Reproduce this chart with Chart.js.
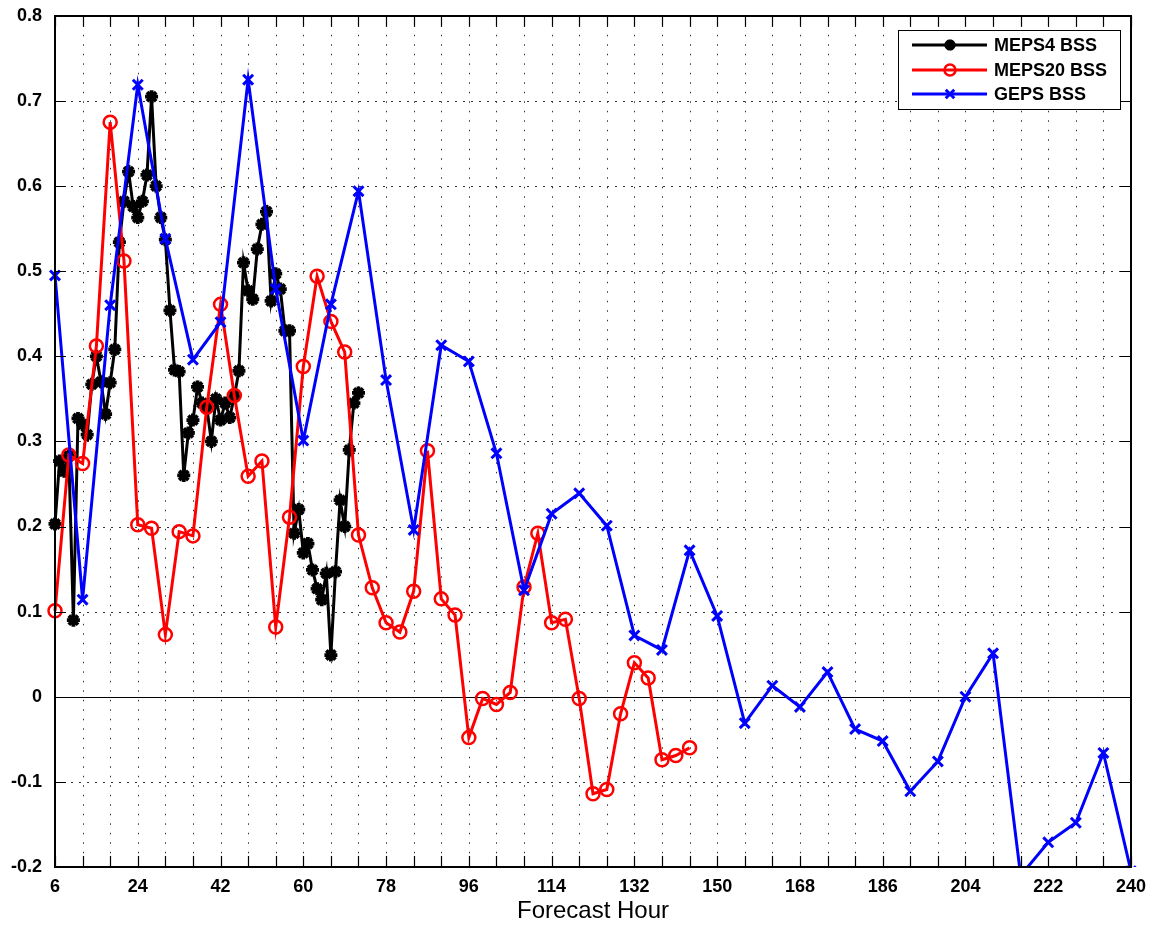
<!DOCTYPE html>
<html><head><meta charset="utf-8">
<script src="https://cdn.jsdelivr.net/npm/chart.js@4.4.1/dist/chart.umd.min.js"></script>
<style>html,body{margin:0;padding:0;background:#fff;overflow:hidden;} canvas{display:block;}</style>
</head><body>
<canvas id="c" width="1153" height="926"></canvas>
<script>
// ---------- DATA ----------
const meps4Hours = [6,7,8,9,10,11,12,13,14,15,16,17,18,19,20,21,22,23,24,25,26,27,28,29,30,31,32,33,34,35,36,37,38,39,40,41,42,43,44,45,46,47,48,49,50,51,52,53,54,55,56,57,58,59,60,61,62,63,64,65,66,67,68,69,70,71,72];
const meps4BSS = [0.203,0.277,0.265,0.283,0.09,0.327,0.32,0.308,0.367,0.40,0.37,0.332,0.369,0.408,0.534,0.582,0.617,0.576,0.563,0.582,0.613,0.705,0.60,0.563,0.537,0.454,0.384,0.382,0.26,0.31,0.325,0.364,0.345,0.34,0.30,0.35,0.325,0.345,0.328,0.353,0.383,0.51,0.477,0.467,0.526,0.555,0.57,0.465,0.497,0.479,0.43,0.43,0.192,0.22,0.169,0.18,0.149,0.127,0.114,0.145,0.049,0.147,0.231,0.2,0.29,0.345,0.357];

const meps20Hours = [6,9,12,15,18,21,24,27,30,33,36,39,42,45,48,51,54,57,60,63,66,69,72,75,78,81,84,87,90,93,96,99,102,105,108,111,114,117,120,123,126,129,132,135,138,141,144];
const meps20BSS = [0.101,0.284,0.274,0.412,0.675,0.512,0.202,0.198,0.073,0.194,0.189,0.340,0.461,0.354,0.259,0.277,0.082,0.211,0.388,0.494,0.441,0.405,0.19,0.128,0.087,0.076,0.124,0.289,0.115,0.096,-0.048,-0.002,-0.009,0.005,0.129,0.192,0.087,0.091,-0.002,-0.114,-0.109,-0.02,0.04,0.022,-0.074,-0.069,-0.06];

const gepsHours = [6,12,18,24,30,36,42,48,54,60,66,72,78,84,90,96,102,108,114,120,126,132,138,144,150,156,162,168,174,180,186,192,198,204,210,216,222,228,234,240];
const gepsBSS = [0.495,0.114,0.46,0.719,0.538,0.396,0.44,0.725,0.479,0.301,0.461,0.594,0.372,0.196,0.413,0.394,0.286,0.125,0.215,0.239,0.201,0.072,0.055,0.172,0.095,-0.031,0.013,-0.012,0.029,-0.038,-0.052,-0.111,-0.076,0.0,0.051,-0.21,-0.171,-0.148,-0.066,-0.205];

const seriesLabels = ['MEPS4 BSS','MEPS20 BSS','GEPS BSS'];
const xTickLabels = [6,24,42,60,78,96,114,132,150,168,186,204,222,240];
const yTickLabels = [-0.2,-0.1,0,0.1,0.2,0.3,0.4,0.5,0.6,0.7,0.8];
const xAxisTitle = 'Forecast Hour';

// ---------- CHART ----------
const FONT = "'Liberation Sans', Arial, Helvetica, sans-serif";
const pts = (xs, ys) => xs.map((x, i) => ({x, y: ys[i]}));

const framePlugin = {
  id: 'framePlugin',
  beforeDatasetsDraw(chart) {
    const {ctx, chartArea: a, scales: {x, y}} = chart;
    ctx.save();
    ctx.lineWidth = 1;
    ctx.strokeStyle = '#333';
    ctx.setLineDash([1.5, 8]);
    x.ticks.forEach(t => {
      const px = Math.round(x.getPixelForValue(t.value)) + 0.5;
      ctx.beginPath(); ctx.moveTo(px, a.top); ctx.lineTo(px, a.bottom); ctx.stroke();
    });
    ctx.setLineDash([2, 6]);
    y.ticks.forEach(t => {
      const py = Math.round(y.getPixelForValue(t.value)) + 0.5;
      ctx.beginPath(); ctx.moveTo(a.left, py); ctx.lineTo(a.right, py); ctx.stroke();
    });
    ctx.setLineDash([]);
    ctx.strokeStyle = '#000';
    const pz = Math.round(y.getPixelForValue(0)) + 0.5;
    ctx.beginPath(); ctx.moveTo(a.left, pz); ctx.lineTo(a.right, pz); ctx.stroke();
    ctx.restore();
  },
  afterDatasetsDraw(chart) {
    const {ctx, chartArea: a, scales: {x, y}} = chart;
    ctx.save();
    ctx.strokeStyle = '#000';
    ctx.lineWidth = 1.2;
    const TL = 11;
    x.ticks.forEach(t => {
      const px = Math.round(x.getPixelForValue(t.value)) + 0.5;
      ctx.beginPath();
      ctx.moveTo(px, a.bottom); ctx.lineTo(px, a.bottom - TL);
      ctx.moveTo(px, a.top); ctx.lineTo(px, a.top + TL);
      ctx.stroke();
    });
    y.ticks.forEach(t => {
      const py = Math.round(y.getPixelForValue(t.value)) + 0.5;
      ctx.beginPath();
      ctx.moveTo(a.left, py); ctx.lineTo(a.left + TL, py);
      ctx.moveTo(a.right, py); ctx.lineTo(a.right - TL, py);
      ctx.stroke();
    });
    ctx.lineWidth = 2;
    ctx.strokeRect(Math.round(a.left), Math.round(a.top), Math.round(a.right - a.left), Math.round(a.bottom - a.top));
    ctx.restore();
  },
  afterDraw(chart) {
    const ctx = chart.ctx;
    const bx = 898, by = 30, bw = 222, bh = 79;
    ctx.save();
    ctx.fillStyle = '#fff';
    ctx.fillRect(bx, by, bw, bh);
    ctx.strokeStyle = '#000';
    ctx.lineWidth = 1;
    ctx.strokeRect(bx + 0.5, by + 0.5, bw, bh);
    const rows = [45, 70, 94];
    chart.data.datasets.forEach((ds, i) => {
      const yy = rows[i];
      ctx.strokeStyle = ds.borderColor;
      ctx.lineWidth = ds.borderWidth;
      ctx.setLineDash([]);
      ctx.beginPath(); ctx.moveTo(912, yy); ctx.lineTo(987, yy); ctx.stroke();
      ctx.fillStyle = ds.pointBackgroundColor;
      ctx.strokeStyle = ds.borderColor;
      ctx.lineWidth = ds.pointBorderWidth;
      Chart.helpers.drawPoint(ctx, {pointStyle: ds.pointStyle, radius: ds.pointRadius - 1, borderWidth: ds.pointBorderWidth, rotation: 0}, 950, yy);
      ctx.fillStyle = '#000';
      ctx.font = 'bold 18px ' + FONT;
      ctx.textBaseline = 'middle';
      ctx.textAlign = 'left';
      ctx.fillText(ds.label, 994, yy + 1);
    });
    ctx.restore();
  }
};

new Chart(document.getElementById('c'), {
  type: 'line',
  data: {
    datasets: [
      {label: seriesLabels[0], data: pts(meps4Hours, meps4BSS), borderColor: '#000000', backgroundColor: '#000000',
       pointBackgroundColor: '#000000', borderWidth: 3, pointStyle: 'star', pointRadius: 6.5, pointBorderWidth: 3.8, order: 3},
      {label: seriesLabels[1], data: pts(meps20Hours, meps20BSS), borderColor: '#ff0000', backgroundColor: 'rgba(0,0,0,0)',
       pointBackgroundColor: 'rgba(0,0,0,0)', borderWidth: 3, pointStyle: 'circle', pointRadius: 6.5, pointBorderWidth: 2.5, order: 2},
      {label: seriesLabels[2], data: pts(gepsHours, gepsBSS), borderColor: '#0000ff', backgroundColor: '#0000ff',
       pointBackgroundColor: '#0000ff', borderWidth: 3, pointStyle: 'crossRot', pointRadius: 7, pointBorderWidth: 3, order: 1}
    ]
  },
  options: {
    responsive: false,
    animation: false,
    devicePixelRatio: 1,
    layout: {padding: {top: 11, right: 22, left: 0, bottom: 0}},
    elements: {line: {tension: 0, fill: false}},
    plugins: {legend: {display: false}, tooltip: {enabled: false}},
    datasets: {line: {clip: {left: 12, right: 12, top: 12, bottom: 0}}},
    scales: {
      x: {
        type: 'linear', min: 6, max: 240,
        grid: {display: false}, border: {display: false},
        ticks: {
          stepSize: 6, autoSkip: false, maxRotation: 0, minRotation: 0, padding: 1,
          color: '#000', font: {family: FONT, size: 18, weight: 'bold'},
          callback: v => xTickLabels.includes(v) ? String(v) : ''
        },
        title: {display: true, text: xAxisTitle, color: '#000', font: {family: FONT, size: 24, weight: 'normal'}, padding: {top: 0, bottom: 0}},
        afterFit: s => { s.height = 59; }
      },
      y: {
        type: 'linear', min: -0.2, max: 0.8,
        grid: {display: false}, border: {display: false},
        ticks: {
          stepSize: 0.1, padding: 5, color: '#000', font: {family: FONT, size: 18, weight: 'bold'},
          callback: v => { const r = Math.round(v * 10) / 10; return yTickLabels.includes(r) ? String(r) : ''; }
        },
        afterFit: s => { s.width = 55; }
      }
    }
  },
  plugins: [framePlugin]
});
</script>
</body></html>
